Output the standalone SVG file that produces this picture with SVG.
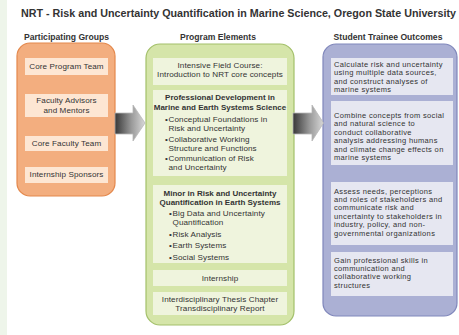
<svg xmlns="http://www.w3.org/2000/svg" width="459" height="335" viewBox="0 0 459 335">
  <defs>
    <linearGradient id="arrowFill" x1="0" y1="0" x2="1" y2="0">
      <stop offset="0" stop-color="#383838"/>
      <stop offset="0.55" stop-color="#9a9a9a"/>
      <stop offset="1" stop-color="#d8d8d8"/>
    </linearGradient>
  </defs>
  <style>
    text { font-family: "Liberation Sans", Arial, sans-serif; fill: #333333; }
    .title { font-size: 10.5px; font-weight: bold; }
    .head { font-size: 8.6px; font-weight: bold; }
    .t { font-size: 8.1px; letter-spacing: 0.1px; }
    .r { font-size: 7.5px; letter-spacing: 0.35px; }
    .b { font-size: 8px; font-weight: bold; }
    .c { text-anchor: middle; }
    .orange { fill: #f3ae7f; stroke: #e4884c; stroke-width: 1.2; }
    .green { fill: #d5e5a9; stroke: #a3c06a; stroke-width: 1.2; }
    .blue { fill: #abb0d4; stroke: #8087bb; stroke-width: 1.2; }
    .po { fill: #fde6d3; }
    .pg { fill: #eff4dd; }
    .pb { fill: #e6e7f1; }
    .arrow { fill: url(#arrowFill); stroke: #b8b8b8; stroke-width: 0.8; }
  </style>

  <!-- page background and left margin strip -->
  <rect x="0" y="0" width="459" height="335" fill="#ffffff"/>
  <rect x="0" y="0" width="7" height="335" fill="#eef5ea"/>

  <text class="title" x="21" y="17" textLength="435" lengthAdjust="spacingAndGlyphs">NRT - Risk and Uncertainty Quantification in Marine Science, Oregon State University</text>

  <text class="head c" x="66.5" y="40">Participating Groups</text>
  <text class="head c" x="218" y="40">Program Elements</text>
  <text class="head c" x="388" y="40">Student Trainee Outcomes</text>

  <!-- Participating Groups -->
  <g id="participating-groups">
    <rect class="orange" x="17" y="43" width="98" height="153" rx="13"/>
    <g id="core-program-team">
      <rect class="po" x="25" y="58" width="83" height="17"/>
      <text class="t c" x="66.5" y="69">Core Program Team</text>
    </g>
    <g id="faculty-advisors">
      <rect class="po" x="25" y="94" width="83" height="23"/>
      <text class="t c" x="66.5" y="103.3">Faculty Advisors</text>
      <text class="t c" x="66.5" y="112.8">and Mentors</text>
    </g>
    <g id="core-faculty-team">
      <rect class="po" x="25" y="136" width="83" height="15"/>
      <text class="t c" x="66.5" y="146.2">Core Faculty Team</text>
    </g>
    <g id="internship-sponsors">
      <rect class="po" x="25" y="167" width="83" height="16"/>
      <text class="t c" x="66.5" y="177.2">Internship Sponsors</text>
    </g>
  </g>

  <!-- Program Elements -->
  <g id="program-elements">
    <rect class="green" x="146" y="44" width="148" height="281" rx="14"/>
    <g id="field-course">
      <rect class="pg" x="153" y="58" width="134" height="27"/>
      <text class="t c" x="220" y="67.8">Intensive Field Course:</text>
      <text class="t c" x="220" y="77.2">Introduction to NRT core concepts</text>
    </g>
    <g id="professional-development">
      <rect class="pg" x="153" y="90" width="134" height="86"/>
      <text class="b c" x="220" y="100">Professional Development in</text>
      <text class="b c" x="220" y="109.6">Marine and Earth Systems Science</text>
      <text class="t" x="165" y="122">•</text>
      <text class="t" x="168.5" y="122">Conceptual Foundations in</text>
      <text class="t" x="168.5" y="131.3">Risk and Uncertainty</text>
      <text class="t" x="165" y="141.6">•</text>
      <text class="t" x="168.5" y="141.6">Collaborative Working</text>
      <text class="t" x="168.5" y="150.9">Structure and Functions</text>
      <text class="t" x="165" y="161">•</text>
      <text class="t" x="168.5" y="161">Communication of Risk</text>
      <text class="t" x="168.5" y="170.3">and Uncertainty</text>
    </g>
    <g id="minor">
      <rect class="pg" x="153" y="185" width="134" height="78"/>
      <text class="b c" x="220" y="195.5">Minor in Risk and Uncertainty</text>
      <text class="b c" x="220" y="205.1">Quantification in Earth Systems</text>
      <text class="t" x="169" y="216">•</text>
      <text class="t" x="172.5" y="216">Big Data and Uncertainty</text>
      <text class="t" x="172.5" y="225.3">Quantification</text>
      <text class="t" x="169" y="236.6">•</text>
      <text class="t" x="172.5" y="236.6">Risk Analysis</text>
      <text class="t" x="169" y="248">•</text>
      <text class="t" x="172.5" y="248">Earth Systems</text>
      <text class="t" x="169" y="259.5">•</text>
      <text class="t" x="172.5" y="259.5">Social Systems</text>
    </g>
    <g id="internship">
      <rect class="pg" x="153" y="270" width="134" height="16"/>
      <text class="t c" x="220" y="280.7">Internship</text>
    </g>
    <g id="thesis">
      <rect class="pg" x="153" y="292" width="134" height="23"/>
      <text class="t c" x="220" y="301.8">Interdisciplinary Thesis Chapter</text>
      <text class="t c" x="220" y="311.3">Transdisciplinary Report</text>
    </g>
  </g>

  <!-- Student Trainee Outcomes -->
  <g id="student-outcomes">
    <rect class="blue" x="323" y="44" width="134" height="272" rx="13"/>
    <g id="outcome-analysis">
      <rect class="pb" x="331" y="58" width="122" height="37"/>
      <text class="r" x="334" y="67">Calculate risk and uncertainty</text>
      <text class="r" x="334" y="75.4">using multiple data sources,</text>
      <text class="r" x="334" y="83.8">and construct analyses of</text>
      <text class="r" x="334" y="92.2">marine systems</text>
    </g>
    <g id="outcome-combine">
      <rect class="pb" x="331" y="101" width="122" height="64"/>
      <text class="r" x="334" y="118">Combine concepts from social</text>
      <text class="r" x="334" y="126.4">and natural science to</text>
      <text class="r" x="334" y="134.8">conduct collaborative</text>
      <text class="r" x="334" y="143.2">analysis addressing humans</text>
      <text class="r" x="334" y="151.6">and climate change effects on</text>
      <text class="r" x="334" y="160">marine systems</text>
    </g>
    <g id="outcome-stakeholders">
      <rect class="pb" x="331" y="182" width="122" height="63"/>
      <text class="r" x="334" y="193.5">Assess needs, perceptions</text>
      <text class="r" x="334" y="201.9">and roles of stakeholders and</text>
      <text class="r" x="334" y="210.3">communicate risk and</text>
      <text class="r" x="334" y="218.7">uncertainty to stakeholders in</text>
      <text class="r" x="334" y="227.1">industry, policy, and non-</text>
      <text class="r" x="334" y="235.5">governmental organizations</text>
    </g>
    <g id="outcome-skills">
      <rect class="pb" x="331" y="252" width="122" height="44"/>
      <text class="r" x="334" y="262.5">Gain professional skills in</text>
      <text class="r" x="334" y="270.9">communication and</text>
      <text class="r" x="334" y="279.3">collaborative working</text>
      <text class="r" x="334" y="287.7">structures</text>
    </g>
  </g>

  <!-- Connectors: block arrows between the columns -->
  <g id="connectors">
    <path class="arrow" d="M115,113 H133 V105 L145,123 L133,141 V134 H115 Z"/>
    <path class="arrow" d="M293,113 H312 V105 L323.5,123 L312,141 V134 H293 Z"/>
  </g>
</svg>
